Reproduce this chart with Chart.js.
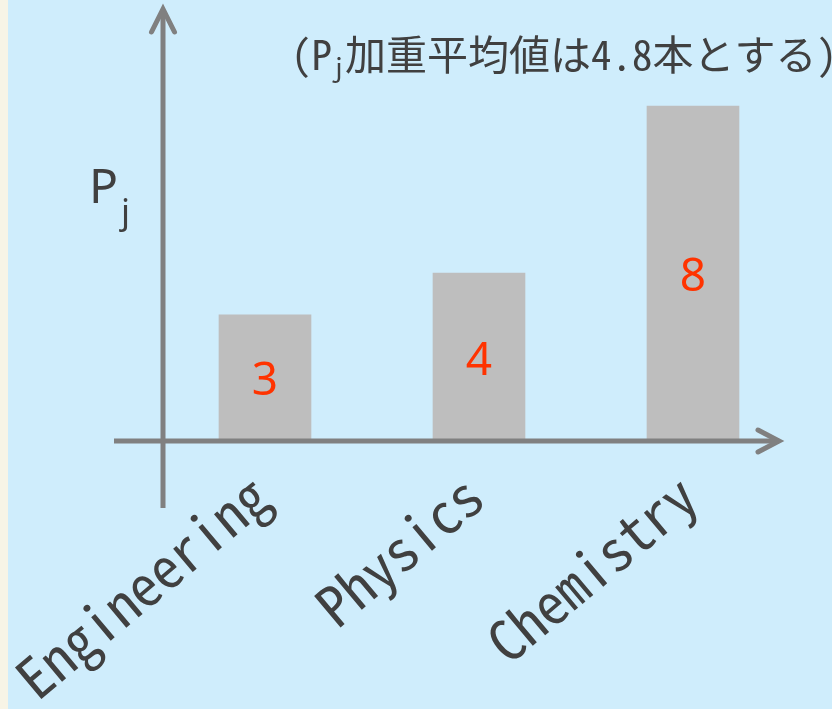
<!DOCTYPE html>
<html>
<head>
<meta charset="utf-8">
<script src="https://cdn.jsdelivr.net/npm/chart.js@4.4.1/dist/chart.umd.min.js"></script>
<style>
  html, body { margin: 0; padding: 0; background: #cfedfc; }
  #wrap { width: 832px; height: 709px; }
  canvas { display: block; }
</style>
</head>
<body>
<div id="wrap"><canvas id="chart" width="832" height="709"></canvas></div>
<script>
// Number of P_j per field
const categories = ['Engineering', 'Physics', 'Chemistry'];
const pjValues = [3, 4, 8];
const yRange = [0, 10];
const noteText = ['(P', 'j', '加重平均値は4.8本とする)'];
const axisLabel = ['P', 'j'];

const MONO = "'Noto Sans Mono CJK JP', 'DejaVu Sans Mono', monospace";
const SANS = "'Noto Sans', 'DejaVu Sans', sans-serif";
const TEXT = '#404040';
const AXIS = '#808080';

// page background with the pale strip on the left edge
const backdrop = {
  id: 'backdrop',
  beforeDraw(chart) {
    const { ctx, width, height } = chart;
    ctx.save();
    ctx.fillStyle = '#cfedfc';
    ctx.fillRect(0, 0, width, height);
    ctx.fillStyle = '#f7f4e6';
    ctx.fillRect(0, 0, 8, height);
    ctx.restore();
  }
};

// arrowed axes crossing near the origin
const arrowAxes = {
  id: 'arrowAxes',
  afterDatasetsDraw(chart) {
    const { ctx, chartArea, scales } = chart;
    const ax = chartArea.left + 5;
    const ay = scales.y.getPixelForValue(0) + 1;
    const yTop = chartArea.top - 14.5;
    const xEnd = chartArea.right - 20;
    ctx.save();
    ctx.strokeStyle = AXIS;
    ctx.lineWidth = 5;
    ctx.lineCap = 'butt';
    ctx.beginPath();
    ctx.moveTo(ax, ay + 67);
    ctx.lineTo(ax, yTop + 3);
    ctx.moveTo(ax - 49, ay);
    ctx.lineTo(xEnd - 3, ay);
    ctx.stroke();
    ctx.lineCap = 'round';
    ctx.lineJoin = 'miter';
    ctx.beginPath();
    ctx.moveTo(ax - 11.5, yTop + 24);
    ctx.lineTo(ax, yTop + 1);
    ctx.lineTo(ax + 11.5, yTop + 24);
    ctx.moveTo(xEnd - 22, ay - 11);
    ctx.lineTo(xEnd - 1, ay);
    ctx.lineTo(xEnd - 22, ay + 11);
    ctx.stroke();
    ctx.restore();
  }
};

// value written inside each bar
const barValues = {
  id: 'barValues',
  afterDatasetsDraw(chart) {
    const { ctx } = chart;
    const meta = chart.getDatasetMeta(0);
    ctx.save();
    ctx.font = '46px ' + SANS;
    ctx.fillStyle = '#ff3300';
    ctx.textAlign = 'center';
    ctx.textBaseline = 'alphabetic';
    meta.data.forEach((bar, i) => {
      const cy = (bar.y + bar.base) / 2 + 1.5;
      ctx.fillText(String(pjValues[i]), bar.x, cy + 16.5);
    });
    ctx.restore();
  }
};

// note at the top and the axis name, both with a subscript j
const annotations = {
  id: 'annotations',
  afterDraw(chart) {
    const { ctx } = chart;
    ctx.save();
    ctx.fillStyle = TEXT;
    ctx.textAlign = 'left';
    ctx.textBaseline = 'alphabetic';

    let x = 291;
    ctx.font = '41px ' + MONO;
    ctx.fillText(noteText[0], x, 70);
    x += ctx.measureText(noteText[0]).width;
    ctx.font = '26px ' + MONO;
    ctx.fillText(noteText[1], x, 77);
    x += ctx.measureText(noteText[1]).width;
    ctx.font = '41px ' + MONO;
    ctx.fillText(noteText[2], x, 70);

    ctx.font = '48px ' + SANS;
    ctx.fillText(axisLabel[0], 89, 203);
    ctx.font = '35px ' + SANS;
    ctx.fillText(axisLabel[1], 121, 224);
    ctx.restore();
  }
};

new Chart(document.getElementById('chart'), {
  type: 'bar',
  data: {
    labels: categories,
    datasets: [{
      data: pjValues,
      backgroundColor: '#bebebe',
      borderWidth: 0,
      barThickness: 92
    }]
  },
  options: {
    responsive: false,
    animation: false,
    devicePixelRatio: 1,
    layout: { padding: { left: 158, right: 32, top: 22.5, bottom: 0 } },
    plugins: { legend: { display: false }, tooltip: { enabled: false }, title: { display: false } },
    scales: {
      x: {
        grid: { display: false },
        border: { display: false },
        ticks: {
          autoSkip: false,
          minRotation: 40,
          maxRotation: 40,
          padding: 14,
          labelOffset: -5,
          color: TEXT,
          font: { family: MONO, size: 56 }
        },
        afterFit(scale) {
          // fixed band below the plot; labels may overhang the sides
          scale.height = 269;
          scale.paddingLeft = 0;
          scale.paddingRight = 0;
        }
      },
      y: {
        display: false,
        min: yRange[0],
        max: yRange[1]
      }
    }
  },
  plugins: [backdrop, arrowAxes, barValues, annotations]
});
</script>
</body>
</html>
